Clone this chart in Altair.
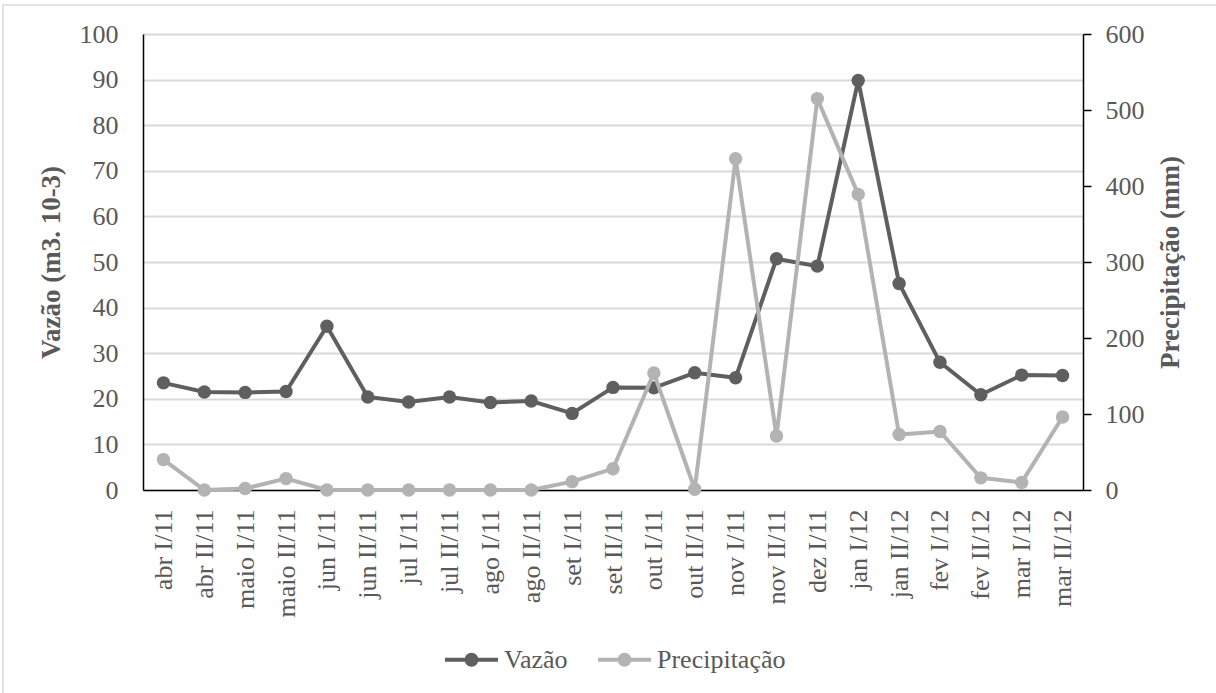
import altair as alt
import pandas as pd

# Períodos quinzenais (abr/2011 a mar/2012)
periodos = [
    "abr I/11", "abr II/11", "maio I/11", "maio II/11", "jun I/11", "jun II/11",
    "jul I/11", "jul II/11", "ago I/11", "ago II/11", "set I/11", "set II/11",
    "out I/11", "out II/11", "nov I/11", "nov II/11", "dez I/11", "jan I/12",
    "jan II/12", "fev I/12", "fev II/12", "mar I/12", "mar II/12",
]

# Vazão (m3. 10-3)
vazao = [23.5, 21.5, 21.4, 21.6, 35.9, 20.4, 19.3, 20.4, 19.2, 19.5, 16.8, 22.5,
         22.4, 25.7, 24.6, 50.7, 49.1, 89.8, 45.3, 28.0, 20.9, 25.2, 25.1]

# Precipitação (mm)
precipitacao = [40, 0, 2, 15, 0, 0, 0, 0, 0, 0, 11, 28,
                154, 1, 436, 71, 515, 389, 73, 77, 16, 10, 96]

series = ["Vazão", "Precipitação"]
cores = ["#5f5f5f", "#b3b3b3"]

df = pd.DataFrame({
    "periodo": periodos * 2,
    "serie": ["Vazão"] * len(periodos) + ["Precipitação"] * len(periodos),
    "valor": vazao + precipitacao,
})

FONTE = "Liberation Serif"
TEXTO = "#595959"
TAM = 26
TAM_TITULO = 27

x_enc = alt.X(
    "periodo:N", sort=periodos, title=None,
    scale=alt.Scale(type="point", padding=0.5),
    axis=alt.Axis(labelAngle=270, labelAlign="right", labelBaseline="middle",
                  labelPadding=19, ticks=False, domainColor="black", domainWidth=1.5,
                  labelFont=FONTE, labelFontSize=TAM, labelColor=TEXTO, grid=False),
)

# símbolo da legenda: traço horizontal com um marcador cheio ao centro
# (o disco é feito por dois círculos concêntricos traçados)
simbolo = (
    "M-1,0L1,0"
    "M-0.07,0A0.07,0.07,0,1,1,0.07,0A0.07,0.07,0,1,1,-0.07,0Z"
    "M-0.19,0A0.19,0.19,0,1,1,0.19,0A0.19,0.19,0,1,1,-0.19,0Z"
)

cor = alt.Color(
    "serie:N",
    scale=alt.Scale(domain=series, range=cores),
    legend=alt.Legend(
        title=None, orient="none", legendX=300, legendY=597, direction="horizontal",
        symbolType=simbolo, symbolSize=2809, symbolStrokeWidth=3.8,
        symbolOpacity=1, columnPadding=22, labelOffset=4,
        labelFont=FONTE, labelFontSize=TAM, labelColor=TEXTO,
    ),
)

ponto = alt.OverlayMarkDef(filled=True, size=180, opacity=1)

linha_vazao = alt.Chart(df).transform_filter(alt.datum.serie == "Vazão").mark_line(
    strokeWidth=4, point=ponto
).encode(
    x=x_enc,
    y=alt.Y("valor:Q", scale=alt.Scale(domain=[0, 100], nice=False),
            axis=alt.Axis(title="Vazão (m3. 10-3)", orient="left",
                          values=list(range(0, 101, 10)), ticks=False,
                          labelPadding=25, titlePadding=14,
                          domainColor="black", domainWidth=1.5,
                          grid=True, gridColor="#d9d9d9", gridWidth=1.8,
                          labelFont=FONTE, labelFontSize=TAM, labelColor=TEXTO,
                          titleFont=FONTE, titleFontSize=TAM_TITULO,
                          titleFontWeight="bold", titleColor=TEXTO)),
    color=cor,
)

linha_precip = alt.Chart(df).transform_filter(alt.datum.serie == "Precipitação").mark_line(
    strokeWidth=4, point=ponto
).encode(
    x=x_enc,
    y=alt.Y("valor:Q", scale=alt.Scale(domain=[0, 600], nice=False),
            axis=alt.Axis(title="Precipitação (mm)", orient="right",
                          values=list(range(0, 601, 100)), ticks=True, tickSize=8,
                          tickColor="black", tickWidth=1.5,
                          labelPadding=14, titlePadding=13,
                          titleAngle=270, titleBaseline="top",
                          domainColor="black", domainWidth=1.5, grid=False,
                          labelFont=FONTE, labelFontSize=TAM, labelColor=TEXTO,
                          titleFont=FONTE, titleFontSize=TAM_TITULO,
                          titleFontWeight="bold", titleColor=TEXTO)),
    color=cor,
)

# moldura clara em volta do gráfico
moldura = alt.Chart(pd.DataFrame({"m": [0]})).mark_rect(
    fill=None, stroke="#d9d9d9", strokeWidth=1.5
).encode(
    x=alt.value(-140), x2=alt.value(1090), y=alt.value(-29), y2=alt.value(670)
)

chart = alt.layer(moldura, linha_vazao, linha_precip).resolve_scale(
    y="independent", color="shared"
).properties(
    width=940, height=456,
    autosize=alt.AutoSizeParams(type="none"),
    padding={"left": 143, "top": 34, "right": 133, "bottom": 203},
    background="white",
).configure_view(stroke=None)

chart.save("out.html", embed_options={"renderer": "svg", "actions": False})
